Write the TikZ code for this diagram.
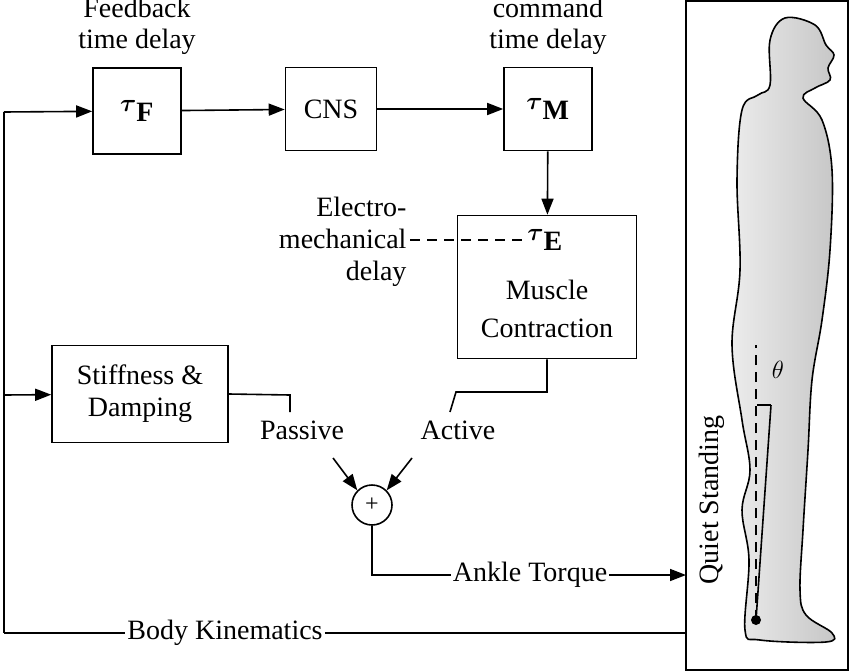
\documentclass[tikz,border=0pt]{standalone}
\usepackage{amsmath}
\usepackage{fontspec}
\setmainfont{Liberation Serif}
\usetikzlibrary{arrows.meta,positioning,calc}
\tikzset{
  blk/.style={draw,line width=1.6pt,minimum width=88pt,minimum height=86pt,align=center},
  lbl/.style={font=\fontsize{28}{32}\selectfont,align=center},
  arr/.style={line width=1.6pt,-{Triangle[length=16pt,width=12pt]}},
  ln/.style={line width=1.6pt},
  dsh/.style={line width=1.6pt,dash pattern=on 10pt off 7pt}
}
\begin{document}
\begin{tikzpicture}[x=1pt,y=-1pt,lbl]
            \useasboundingbox (0,0) rectangle (850,671);

            \node[blk] (tauF) at (137,111) {\fontsize{40}{40}\selectfont$\boldsymbol{\tau}_{\mathbf{F}}$};
            \node[blk,minimum width=91pt,minimum height=83pt] (cns) at (331,109) {CNS};
            \node[blk,minimum height=83pt] (tauM) at (548,109) {\fontsize{40}{40}\selectfont$\boldsymbol{\tau}_{\mathbf{M}}$};
            \node[blk,minimum width=179pt,minimum height=143pt] (mus) at (547,287) {};
            \node (tauE) at (545,240) {\fontsize{40}{40}\selectfont$\boldsymbol{\tau}_{\mathbf{E}}$};
            \node at (547,290) {Muscle};
            \node at (547,328) {Contraction};
            \node[blk,minimum width=176pt,minimum height=97pt] (stf) at (140,394) {Stiffness \&\\Damping};
            \node[draw,line width=1.6pt,circle,minimum size=40pt,inner sep=0pt,font=\fontsize{24}{24}\selectfont] (sum) at (372,505) {+};

            \node at (137,8) {Feedback};
            \node at (137,42) {time delay};
            \node at (548,8) {command};
            \node at (548,42) {time delay};
            \node[align=right,anchor=east] (emd) at (410,242) {Electro-\\mechanical\\delay};

            % signal path
            \coordinate (tl) at (4,112);
            \coordinate (ml) at (4,395);
            \coordinate (bl) at (4,633);
            \draw[arr] (tl) -- (tauF);
            \draw[arr] (tauF) -- (cns);
            \draw[arr] (cns) -- (tauM);
            \draw[arr] (tauM) -- (mus);
            \draw[dsh] (emd.east |- tauE) -- (tauE);
            \draw[ln] (tl) -- (bl);
            \draw[arr] (ml) -- (stf);

            \draw[ln] (stf.east) -- (290,395) -- (290,412);
            \node (pas) at (302,430) {Passive};
            \draw[arr] (333,458) -- (sum.north west);
            \draw[ln] (mus.south) -- (547,392) -- (456,392) -- (450,412);
            \node (act) at (458,430) {Active};
            \draw[arr] (412,458) -- (sum.north east);

            \node[fill=white,inner sep=2pt] (tq) at (530,575) {Ankle Torque};
            \draw[ln] (sum) -- (372,575) -- (tq);
            \draw[arr] (tq) -- (686,575);
            \node[fill=white,inner sep=2pt] (bk) at (225,633) {Body Kinematics};
            \draw[ln] (bl) -- (bk) -- (686,633);

            % figure
            \draw[ln] (686,1) rectangle (848,670);
            \draw[line width=1.6pt,left color=gray!15,right color=gray!45]
              plot[smooth cycle,tension=0.6] coordinates {(785,18) (815,25) (826,45) (834,55) (828,68) (830,80) (815,88) (803,98)
              (822,120) (832,170) (830,250) (822,320) (812,380) (808,450) (803,530) (800,590) (806,615) (832,633) (826,642)
              (760,640) (745,630) (749,560) (742,510) (750,470) (742,420) (732,345) (740,270) (737,180) (742,110)
              (758,95) (770,85) (770,40)};
            \fill (756,620) circle (5pt);
            \draw[ln] (756,620) -- (771,405);
            \draw[dsh] (756,620) -- (756,345);
            \draw[ln] (757,405) -- (771,405);
            \node at (778,370) {$\theta$};
            \node[rotate=90] at (712,500) {Quiet Standing};
\end{tikzpicture}
\end{document}
